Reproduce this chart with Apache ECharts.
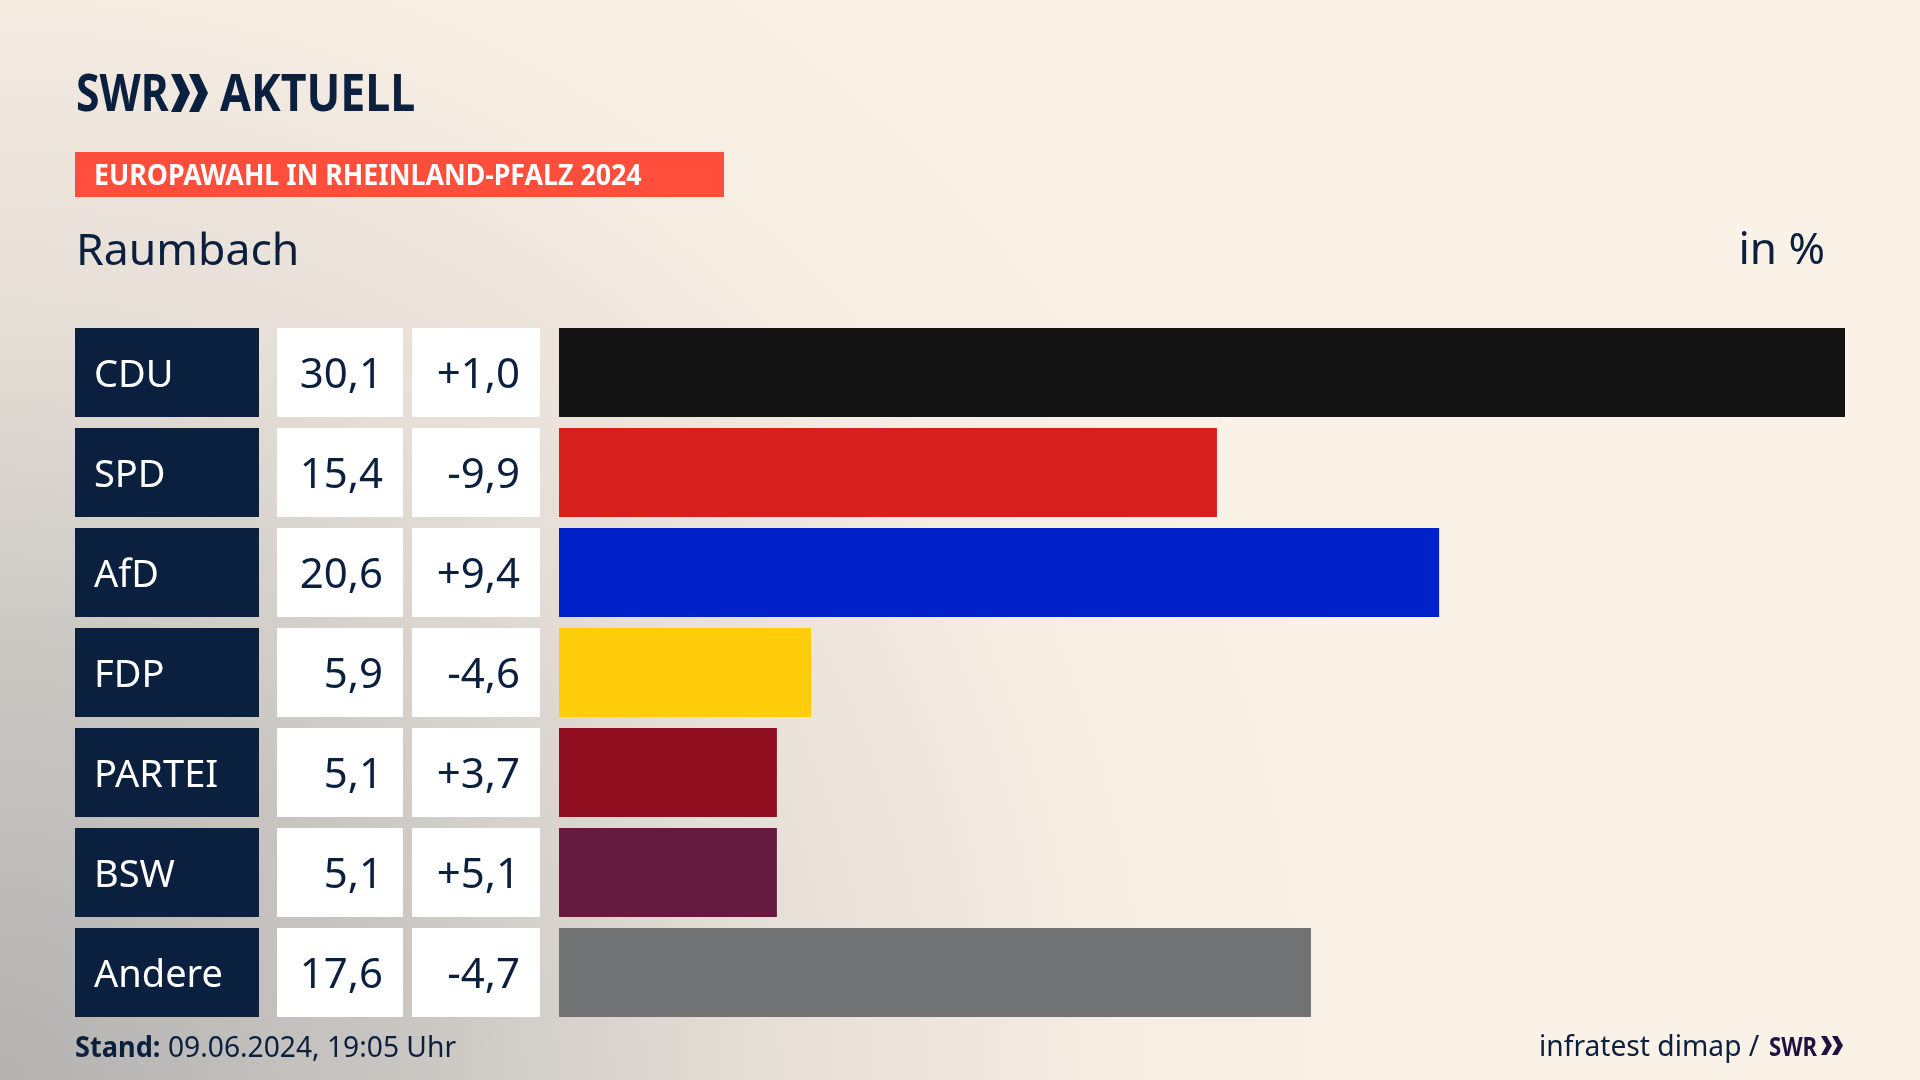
<!DOCTYPE html>
<html>
<head>
<meta charset="utf-8">
<title>Europawahl Raumbach</title>
<script src="https://cdn.jsdelivr.net/npm/echarts@6/dist/echarts.min.js"></script>
<style>
  html,body{margin:0;padding:0;background:#faf1e7}
  #chart{width:1920px;height:1080px}
</style>
</head>
<body>
<div id="chart"></div>
<script>
const parties = ['CDU', 'SPD', 'AfD', 'FDP', 'PARTEI', 'BSW', 'Andere']
const shares = [30.1, 15.4, 20.6, 5.9, 5.1, 5.1, 17.6]
const changes = [1.0, -9.9, 9.4, -4.6, 3.7, 5.1, -4.7]
const partyColors = ['#141414', '#d71f1d', '#0021c8', '#ffcd0a', '#8f0e20', '#651a3f', '#717274']

const navy = '#0b1f3f'
const fontName = '"Noto Sans"'
const fmt = v => v.toFixed(1).replace('.', ',')
const fmtDiff = v => (v > 0 ? '+' : '') + fmt(v)

// the three table columns are y axes of a second grid, pushed left with offset.
// labels are top aligned so the top padding can move the text down inside its box,
// that is why this grid sits half a row above the bars
const tableAxis = (offset, label) => ({
  type: 'category',
  gridIndex: 1,
  position: 'left',
  data: parties,
  inverse: true,
  offset: offset,
  axisLine: { show: false },
  axisTick: { show: false },
  axisLabel: Object.assign({
    interval: 0,
    margin: 0,
    fontFamily: fontName,
    height: 82,
    lineHeight: 82,
    verticalAlign: 'top'
  }, label)
})

const text = (x, y, str, font, fill, extra) => ({
  type: 'text',
  x: x,
  y: y,
  scaleX: extra && extra.scaleX || 1,
  style: { text: str, font: font, fill: fill, textAlign: extra && extra.align || 'left', textVerticalAlign: 'middle' }
})

// chevrons of the logo
const chevron = (x, y, w, h, t, fill) => ({
  type: 'polygon',
  shape: { points: [[x, y], [x + t, y], [x + w, y + h / 2], [x + t, y + h], [x, y + h], [x + w - t, y + h / 2]] },
  style: { fill: fill }
})

const chart = echarts.init(document.getElementById('chart'), null, { renderer: 'canvas' })
chart.setOption({
  animation: false,
  backgroundColor: {
    type: 'radial', x: 0, y: 1, r: 1.3,
    colorStops: [
      { offset: 0, color: '#b3b2b0' },
      { offset: 0.3, color: '#cac7c3' },
      { offset: 0.55, color: '#e6dfd7' },
      { offset: 0.8, color: '#f6ede3' },
      { offset: 1, color: '#faf1e7' }
    ]
  },
  color: partyColors,
  grid: [
    { left: 559, right: 75, top: 322.5, height: 700, outerBoundsMode: 'none' },
    { left: 559, right: 75, top: 278, height: 700, outerBoundsMode: 'none' }
  ],
  xAxis: [
    { type: 'value', min: 0, max: 30.1, show: false },
    { type: 'value', gridIndex: 1, min: 0, max: 30.1, show: false }
  ],
  yAxis: [
    {
      type: 'category',
      data: parties,
      inverse: true,
      axisLine: { show: false },
      axisTick: { show: false },
      axisLabel: { show: false }
    },
    tableAxis(484, {
      align: 'left', color: '#ffffff', backgroundColor: navy, fontSize: 38,
      width: 165, padding: [7, 0, 0, 19],
      formatter: v => v
    }),
    tableAxis(156, {
      align: 'right', color: navy, backgroundColor: '#ffffff', fontSize: 42,
      width: 106, padding: [7, 20, 0, 0],
      formatter: (v, i) => fmt(shares[i])
    }),
    tableAxis(19, {
      align: 'right', color: navy, backgroundColor: '#ffffff', fontSize: 42,
      width: 108, padding: [7, 20, 0, 0],
      formatter: (v, i) => fmtDiff(changes[i])
    })
  ],
  series: [{
    type: 'bar',
    colorBy: 'data',
    barWidth: 89,
    data: shares,
    silent: true
  }],
  graphic: [
    text(76, 96, 'SWR', 'bold 52px ' + fontName, navy, { scaleX: 0.82 }),
    chevron(171, 74, 19, 38, 10, navy),
    chevron(189, 74, 19, 38, 10, navy),
    text(220, 96, 'AKTUELL', 'bold 52px ' + fontName, navy, { scaleX: 0.86 }),
    { type: 'rect', shape: { x: 75, y: 152, width: 649, height: 45 }, style: { fill: '#ff4f3c' } },
    text(94, 177, 'EUROPAWAHL IN RHEINLAND-PFALZ 2024', 'bold 28px ' + fontName, '#ffffff', { scaleX: 0.955 }),
    text(76, 252, 'Raumbach', '44.6px ' + fontName, navy),
    text(1825, 251, 'in %', '44px ' + fontName, navy, { align: 'right' }),
    text(75, 1049, 'Stand:', 'bold 28px ' + fontName, navy, { scaleX: 0.97 }),
    text(168, 1049, '09.06.2024, 19:05 Uhr', '28.2px ' + fontName, navy),
    text(1539, 1048, 'infratest dimap /', '28.2px ' + fontName, navy),
    text(1769, 1048, 'SWR', 'bold 27px ' + fontName, '#1e1240', { scaleX: 0.82 }),
    chevron(1821, 1036, 11, 19, 5.5, '#1e1240'),
    chevron(1832, 1036, 11, 19, 5.5, '#1e1240')
  ]
})
</script>
</body>
</html>
